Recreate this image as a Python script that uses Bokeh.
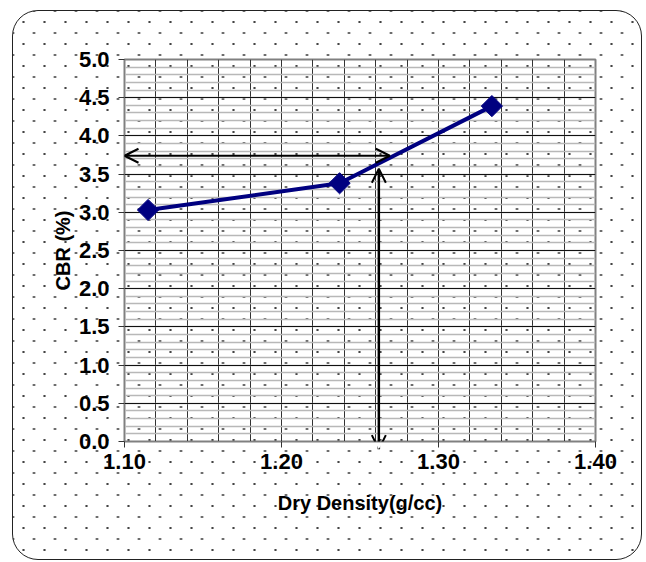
import numpy as np
from bokeh.plotting import figure
from bokeh.models import (Arrow, OpenHead, SingleIntervalTicker, FixedTicker,
                          NumeralTickFormatter, Range1d)
from bokeh.embed import file_html
from bokeh.resources import INLINE

# Data
dry_density = [1.115, 1.237, 1.334]
cbr = [3.03, 3.38, 4.39]
read_cbr = 3.74        # horizontal guide arrow level
read_density = 1.262   # vertical guide arrow position
x_ticks = [1.10, 1.20, 1.30, 1.40]

FONT = "Liberation Sans"

p = figure(width=630, height=550, output_backend="svg", toolbar_location=None,
           x_range=Range1d(1.10, 1.40), y_range=Range1d(0, 5.0),
           min_border_left=111, min_border_right=48, min_border_top=48,
           min_border_bottom=120)

p.background_fill_color = None
p.border_fill_color = None
p.outline_line_color = "#808080"
p.outline_line_width = 2
p.styles = {
    "margin-left": "12px",
    "margin-top": "10px",
    "background-color": "white",
    "background-image": "radial-gradient(circle, #444 0.9px, transparent 1.4px), "
                        "radial-gradient(circle, #444 0.9px, transparent 1.4px)",
    "background-size": "21px 22px",
    "background-position": "0 0, 10.5px 11px",
    "border": "1.5px solid #222",
    "border-radius": "26px",
    "overflow": "hidden",
}

# grids
p.xaxis.ticker = FixedTicker(ticks=x_ticks)
p.xgrid.ticker = SingleIntervalTicker(interval=0.02)
p.xgrid.grid_line_color = "#333333"
p.xgrid.grid_line_width = 1

p.yaxis.ticker = SingleIntervalTicker(interval=0.5, num_minor_ticks=5)
p.ygrid.grid_line_color = "#111111"
p.ygrid.grid_line_width = 1
p.ygrid.minor_grid_line_color = "#b8b8b8"
p.ygrid.minor_grid_line_width = 1.5

# axes
for ax in (p.xaxis, p.yaxis):
    ax.major_label_text_font = FONT
    ax.major_label_text_font_style = "bold"
    ax.major_label_text_font_size = "22px"
    ax.major_label_text_color = "black"
    ax.axis_label_text_font = FONT
    ax.axis_label_text_font_style = "bold"
    ax.axis_label_text_font_size = "20px"
    ax.axis_label_text_color = "black"
    ax.minor_tick_line_color = None
    ax.major_tick_in = 0
    ax.major_tick_out = 6
    ax.major_tick_line_color = "#333333"
    ax.axis_line_color = "#808080"

p.xaxis.formatter = NumeralTickFormatter(format="0.00")
p.yaxis.formatter = NumeralTickFormatter(format="0.0")
p.xaxis.axis_label = "Dry Density(g/cc)"
p.yaxis.axis_label = "CBR (%)"
p.yaxis.major_label_standoff = 9
p.xaxis.major_label_standoff = 6
p.yaxis.axis_label_standoff = 2
p.xaxis.axis_label_standoff = 20

# guide arrows
p.add_layout(Arrow(start=OpenHead(size=14, line_width=2), end=OpenHead(size=14, line_width=2),
                   x_start=read_density + 0.007, y_start=read_cbr,
                   x_end=x_ticks[0], y_end=read_cbr,
                   line_width=2, line_color="black"))
p.add_layout(Arrow(start=OpenHead(size=14, line_width=2), end=OpenHead(size=14, line_width=2),
                   x_start=read_density, y_start=read_cbr - 0.17,
                   x_end=read_density, y_end=-0.1,
                   line_width=2.5, line_color="black"))

# data line
p.line(dry_density, cbr, line_color="#000080", line_width=4)
p.scatter(dry_density, cbr, marker="square", angle=np.pi / 4, size=15,
          fill_color="#000080", line_color="#000080")

open("out.html", "w").write(file_html(p, INLINE))
